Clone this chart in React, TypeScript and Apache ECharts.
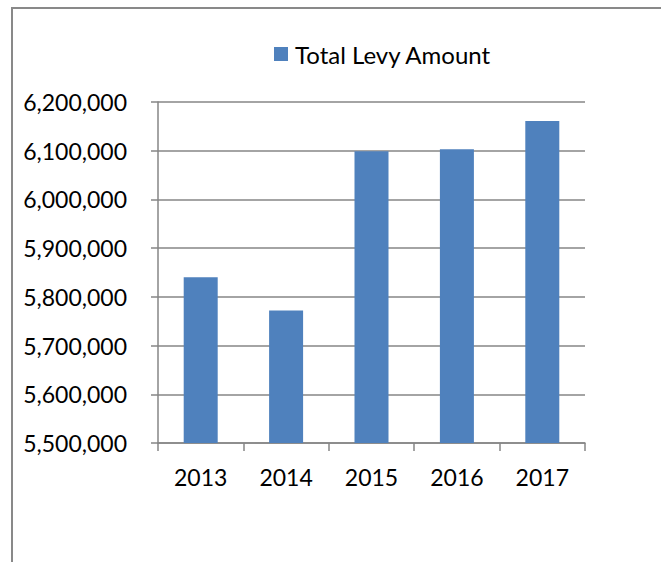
import React, { useEffect, useRef } from "react";
import * as echarts from "echarts";

const categories = ["2013", "2014", "2015", "2016", "2017"];
const levyValues = [5840000, 5772000, 6099000, 6103000, 6161000];
const seriesName = "Total Levy Amount";

const fmt = (v: number) => v.toLocaleString("en-US");

export default function App() {
  const ref = useRef<HTMLDivElement>(null);
  useEffect(() => {
    if (!ref.current) return;
    const chart = echarts.init(ref.current, null, { renderer: "svg" });
    const font = "Lato";
    chart.setOption({
      animation: false,
      backgroundColor: "#ffffff",
      textStyle: { fontFamily: font },
      graphic: [
        {
          type: "rect",
          shape: { x: 12, y: 8, width: 700, height: 600 },
          style: { fill: "none", stroke: "#898989", lineWidth: 2 },
          silent: true,
        },
      ],
      legend: {
        data: [seriesName],
        left: 269,
        top: 37,
        itemWidth: 14,
        itemHeight: 14,
        itemGap: 4,
        icon: "rect",
        textStyle: { fontFamily: font, fontSize: 24, color: "#000", padding: [0, 0, 0, 2] },
      },
      grid: { left: 158, right: 76, top: 102, bottom: 119, containLabel: false },
      xAxis: {
        type: "category",
        data: categories,
        axisLine: { show: true, lineStyle: { color: "#868686", width: 1.5 } },
        axisTick: { show: true, length: 8, lineStyle: { color: "#868686", width: 1.5 } },
        axisLabel: { fontFamily: font, fontSize: 23, color: "#000", margin: 22 },
      },
      yAxis: {
        type: "value",
        min: 5500000,
        max: 6200000,
        interval: 100000,
        axisLine: { show: true, lineStyle: { color: "#868686", width: 1.5 } },
        axisTick: { show: true, length: 7, lineStyle: { color: "#868686", width: 1.5 } },
        splitLine: { show: true, lineStyle: { color: "#868686", width: 1.5 } },
        axisLabel: { fontFamily: font, fontSize: 23, color: "#000", margin: 31, formatter: (v: number) => fmt(v) },
      },
      series: [
        {
          name: seriesName,
          type: "bar",
          data: levyValues,
          barWidth: 34,
          itemStyle: { color: "#4F81BD" },
        },
      ],
    });
    return () => chart.dispose();
  }, []);
  return (
    <div
      ref={ref}
      style={{ position: "fixed", left: 0, top: 0, width: 661, height: 562, background: "#fff" }}
    />
  );
}
